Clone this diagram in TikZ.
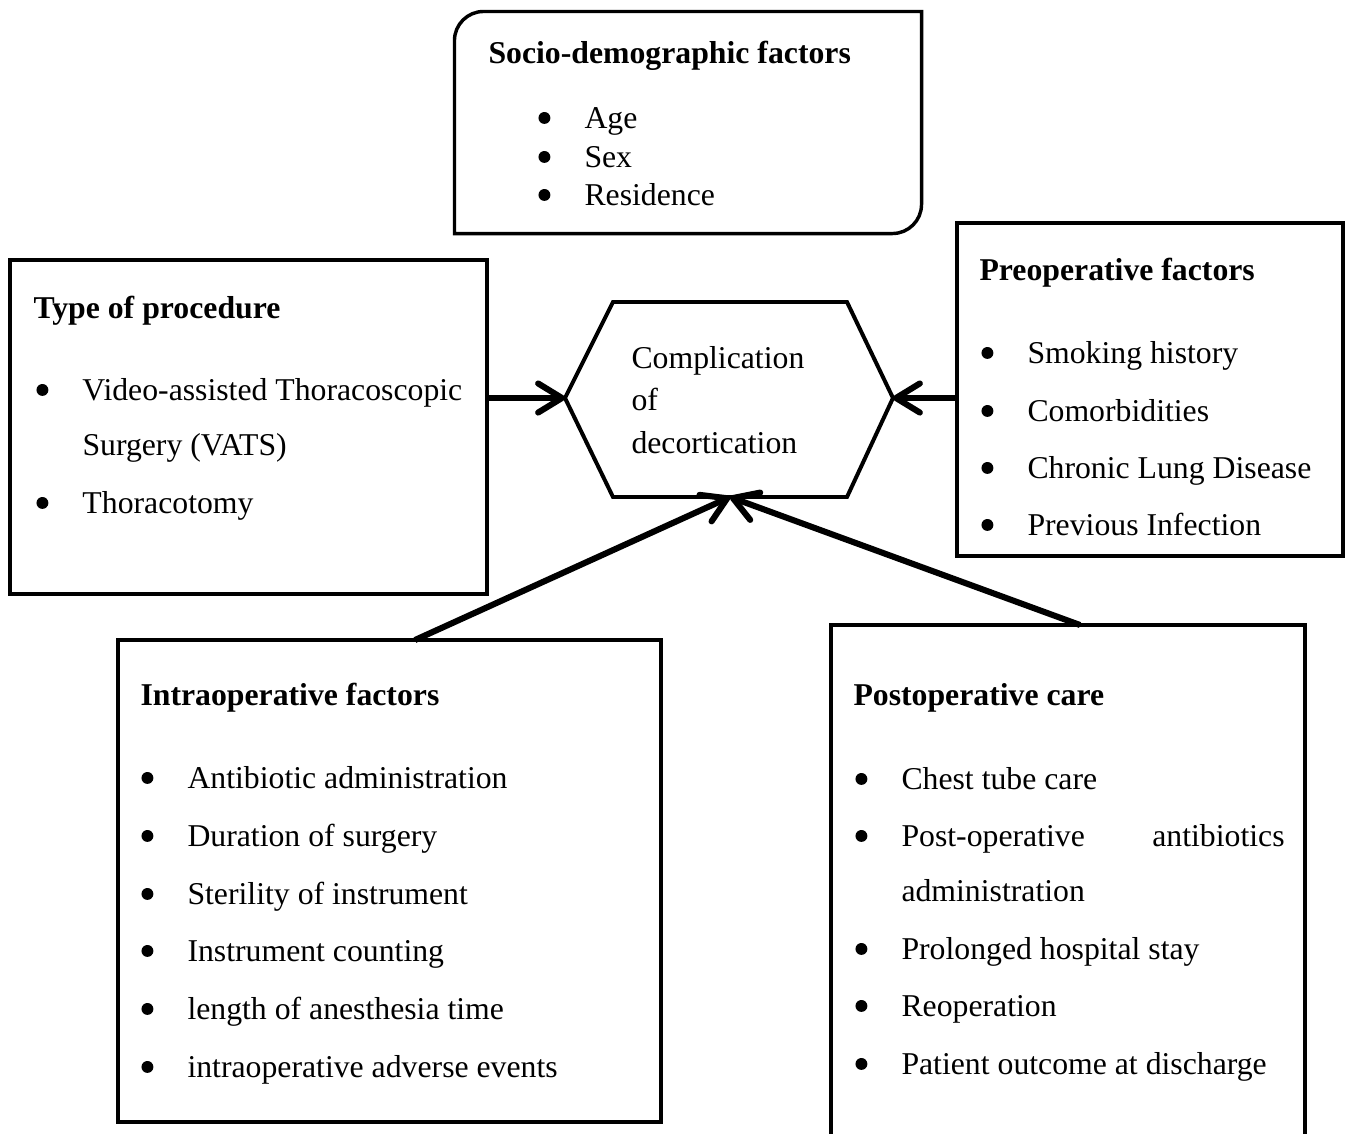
\documentclass[tikz,border=0pt]{standalone}
\usepackage{fontspec}
\setmainfont{Liberation Serif}
\usepackage{tikz}
\usetikzlibrary{arrows.meta, positioning, calc, fit}

\newcommand{\bul}{\makebox[17pt][l]{\hspace{-0.4pt}\tikz[baseline=-3.8pt]\fill (0,0) circle[radius=2.25pt];}}

\begin{document}
\begin{tikzpicture}[
    x=0.378pt, y=-0.378pt,
    box/.style={draw, line width=1.3pt, inner sep=0pt, outer sep=0pt},
    title/.style={anchor=base west, inner sep=0pt, font=\fontsize{12}{20.8}\selectfont\bfseries},
    item/.style={anchor=base west, inner sep=0pt, font=\fontsize{12}{20.8}\selectfont},
    arrow/.style={-{Straight Barb[length=9pt, width=11pt, round]}, line width=2.3pt}
]
    \useasboundingbox (0,0) rectangle (1346,1134);

    % --- Socio-demographic factors ---
    \node[fit={(455,12) (921,233)}, inner sep=0pt] (soc) {};
    \draw[line width=1.3pt] (soc.south west) -- ([yshift=-11pt]soc.north west)
        arc[start angle=180, end angle=90, radius=11pt] -- (soc.north east)
        -- ([yshift=11pt]soc.south east) arc[start angle=0, end angle=-90, radius=11pt] -- cycle;
    \node[title] (socT) at (488,63) {Socio-demographic factors};
    \node[item] (soc1) at (539,128) {\bul Age};
    \node[item] (soc2) at (539,167) {\bul Sex};
    \node[item] (soc3) at (539,205) {\bul Residence};

    % --- Type of procedure ---
    \node[box, fit={(10,260) (487,594)}] (typ) {};
    \node[title] (typT) at (33,318) {Type of procedure};
    \node[item] (typ1) at (37,400) {\bul\begin{tabular}[t]{@{}l@{}}Video-assisted Thoracoscopic\\Surgery (VATS)\end{tabular}};
    \node[item] (typ2) at (37,513) {\bul Thoracotomy};

    % --- Preoperative factors ---
    \node[box, fit={(957,223) (1343,556)}] (pre) {};
    \node[title] (preT) at (979,280) {Preoperative factors};
    \node[item] (pre1) at (982,363) {\bul Smoking history};
    \node[item] (pre2) at (982,421) {\bul Comorbidities};
    \node[item] (pre3) at (982,478) {\bul Chronic Lung Disease};
    \node[item] (pre4) at (982,535) {\bul Previous Infection};

    % --- Outcome ---
    \coordinate (hexNW) at (613,302);
    \coordinate (hexNE) at (847,302);
    \coordinate (hexE) at (893,398);
    \coordinate (hexSE) at (847,497);
    \coordinate (hexS) at (730,497);
    \coordinate (hexSW) at (613,497);
    \coordinate (hexW) at (565,398);
    \draw[line width=1.5pt] (hexNW) -- (hexNE) -- (hexE) -- (hexSE) -- (hexSW) -- (hexW) -- cycle;
    \node[item, align=left, font=\fontsize{12}{16}\selectfont] (cmp) at (631,453) {Complication\\of\\decortication};

    % --- Intraoperative factors ---
    \node[box, fit={(118,640) (661,1122)}] (intra) {};
    \node[title] (intraT) at (140,705) {Intraoperative factors};
    \node[item] (intra1) at (142,788) {\bul Antibiotic administration};
    \node[item] (intra2) at (142,846) {\bul Duration of surgery};
    \node[item] (intra3) at (142,904) {\bul Sterility of instrument};
    \node[item] (intra4) at (142,961) {\bul Instrument counting};
    \node[item] (intra5) at (142,1019) {\bul length of anesthesia time};
    \node[item] (intra6) at (142,1077) {\bul intraoperative adverse events};

    % --- Postoperative care ---
    \node[box, fit={(831,625) (1305,1160)}] (post) {};
    \node[title] (postT) at (853,705) {Postoperative care};
    \node[item] (post1) at (856,789) {\bul Chest tube care};
    \node[item] (post2) at (856,846) {\bul\begin{tabular}[t]{@{}l@{}}\makebox[144.8pt][l]{Post-operative\hfill antibiotics}\\administration\end{tabular}};
    \node[item] (post3) at (856,959) {\bul Prolonged hospital stay};
    \node[item] (post4) at (856,1016) {\bul Reoperation};
    \node[item] (post5) at (856,1074) {\bul Patient outcome at discharge};

    % --- Arrows ---
    \draw[arrow] (typ.east |- hexW) -- (hexW);
    \draw[arrow] (pre.west |- hexE) -- (hexE);
    \draw[arrow] ($(intra.north west)+(297,0)$) -- (hexS);
    \draw[arrow] ($(post.north west)+(249,0)$) -- (hexS);

\end{tikzpicture}
\end{document}
